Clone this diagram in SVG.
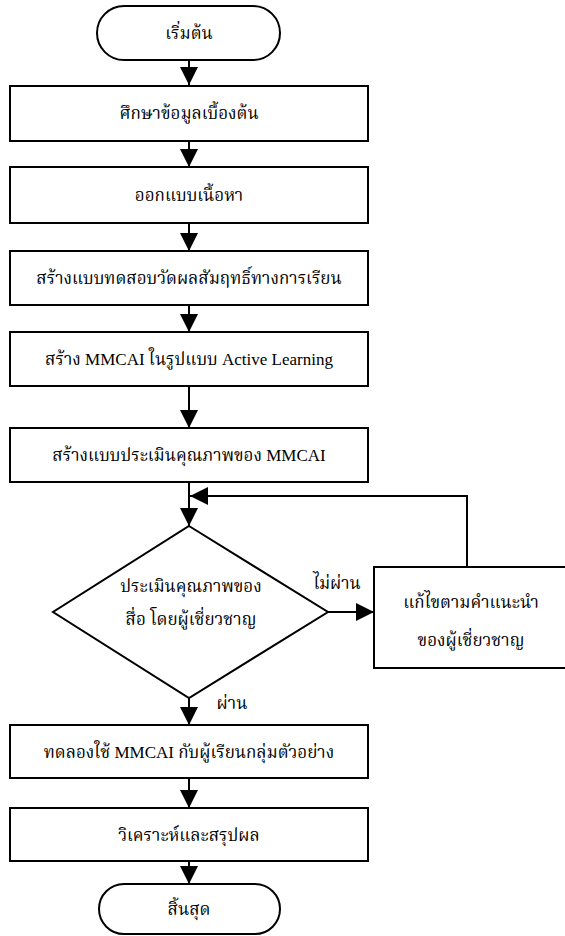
<svg xmlns="http://www.w3.org/2000/svg" width="565" height="936" viewBox="0 0 565 936">
<defs>
<marker id="ah" markerUnits="userSpaceOnUse" markerWidth="18" markerHeight="18" viewBox="0 0 16 16" refX="16" refY="8" orient="auto">
<path d="M0,0 L16,8 L0,16 Z" fill="#000"/>
</marker>
</defs>
<style>
.s{fill:#fff;stroke:#000;stroke-width:2}
.t{font-family:"Liberation Serif","Noto Serif Thai","Noto Sans Thai",serif;font-size:17px;fill:#000;text-anchor:middle;dominant-baseline:central}
.c{fill:none;stroke:#000;stroke-width:2}
</style>
<rect width="565" height="936" fill="#fff"/>
<g id="connectors">
<line class="c" x1="189" y1="60" x2="189" y2="85" marker-end="url(#ah)"/>
<line class="c" x1="189" y1="141" x2="189" y2="167" marker-end="url(#ah)"/>
<line class="c" x1="189" y1="223" x2="189" y2="251" marker-end="url(#ah)"/>
<line class="c" x1="189" y1="305" x2="189" y2="332" marker-end="url(#ah)"/>
<line class="c" x1="189" y1="386" x2="189" y2="428" marker-end="url(#ah)"/>
<line class="c" x1="189" y1="482" x2="189" y2="526" marker-end="url(#ah)"/>
<polyline class="c" points="467,567 467,496 190,496" marker-end="url(#ah)"/>
<line class="c" x1="328" y1="612" x2="374" y2="612" marker-end="url(#ah)"/>
<line class="c" x1="189" y1="698" x2="189" y2="725" marker-end="url(#ah)"/>
<line class="c" x1="189" y1="778" x2="189" y2="808" marker-end="url(#ah)"/>
<line class="c" x1="189" y1="861" x2="189" y2="884" marker-end="url(#ah)"/>
<text class="t" x="337" y="583">ไม่ผ่าน</text>
<text class="t" x="232" y="703">ผ่าน</text>
</g>
<g id="start">
<rect class="s" x="97" y="6" width="183" height="54" rx="27"/>
<text class="t" x="189" y="33">เริ่มต้น</text>
</g>
<g id="step1">
<rect class="s" x="10" y="86" width="358" height="55"/>
<text class="t" x="189" y="113">ศึกษาข้อมูลเบื้องต้น</text>
</g>
<g id="step2">
<rect class="s" x="10" y="167" width="358" height="56"/>
<text class="t" x="189" y="195">ออกแบบเนื้อหา</text>
</g>
<g id="step3">
<rect class="s" x="10" y="251" width="358" height="54"/>
<text class="t" x="189" y="278">สร้างแบบทดสอบวัดผลสัมฤทธิ์ทางการเรียน</text>
</g>
<g id="step4">
<rect class="s" x="10" y="332" width="358" height="54"/>
<text class="t" x="189" y="359">สร้าง MMCAI ในรูปแบบ Active Learning</text>
</g>
<g id="step5">
<rect class="s" x="10" y="428" width="358" height="54"/>
<text class="t" x="189" y="455">สร้างแบบประเมินคุณภาพของ MMCAI</text>
</g>
<g id="decision">
<polygon class="s" points="189,526 328,612 189,698 53,612"/>
<text class="t" x="191" y="586">ประเมินคุณภาพของ</text>
<text class="t" x="191" y="619">สื่อ โดยผู้เชี่ยวชาญ</text>
</g>
<g id="revise">
<rect class="s" x="374" y="567" width="194" height="101"/>
<text class="t" x="471" y="602">แก้ไขตามคำแนะนำ</text>
<text class="t" x="471" y="640">ของผู้เชี่ยวชาญ</text>
</g>
<g id="step6">
<rect class="s" x="10" y="725" width="358" height="53"/>
<text class="t" x="189" y="752">ทดลองใช้ MMCAI กับผู้เรียนกลุ่มตัวอย่าง</text>
</g>
<g id="step7">
<rect class="s" x="10" y="808" width="358" height="53"/>
<text class="t" x="189" y="835">วิเคราะห์และสรุปผล</text>
</g>
<g id="end">
<rect class="s" x="99" y="884" width="181" height="50" rx="25"/>
<text class="t" x="189" y="909">สิ้นสุด</text>
</g>
</svg>
